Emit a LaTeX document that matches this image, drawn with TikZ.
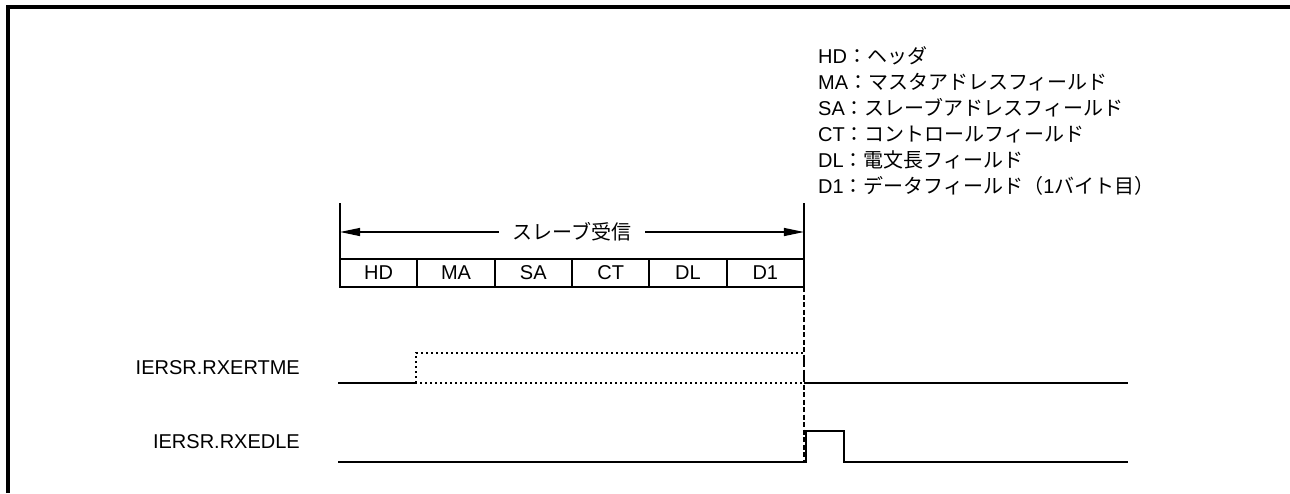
\documentclass[tikz,border=0pt]{standalone}
\usepackage{fontspec}
\setmainfont{Liberation Sans}
\newfontfamily\jp{Noto Sans CJK JP}
\usetikzlibrary{arrows.meta,positioning}

\tikzset{
    field/.style={draw, line width=2pt, minimum width=77.33pt, minimum height=28pt, inner sep=0pt, outer sep=0pt},
    signal/.style={line width=1.6pt},
}

\begin{document}
\begin{tikzpicture}[x=1pt,y=-1pt,font=\fontsize{20}{26}\selectfont,>={Triangle[length=20pt,width=8pt]}]
    \useasboundingbox (0,0) rectangle (1290,493);
    \draw[line width=4pt] (8,493) -- (8,7) -- (1290,7);

    \foreach \txt [count=\i] in {HD{\jp ：ヘッダ}, MA{\jp ：マスタアドレスフィールド}, SA{\jp ：スレーブアドレスフィールド}, CT{\jp ：コントロールフィールド}, DL{\jp ：電文長フィールド}, D1{\jp ：データフィールド（}1{\jp バイト目）}} {
        \node[anchor=base west, inner sep=0pt] (leg\i) at (818,37+26*\i) {\txt};
    }

    \node[field, anchor=west] (hd) at (340,273) {HD};
    \node[field, right=0pt of hd] (ma) {MA};
    \node[field, right=0pt of ma] (sa) {SA};
    \node[field, right=0pt of sa] (ct) {CT};
    \node[field, right=0pt of ct] (dl) {DL};
    \node[field, right=0pt of dl] (d1) {D1};

    \coordinate[above=56pt of hd.north west] (bl);
    \coordinate[above=56pt of d1.north east] (br);
    \coordinate[above=27pt of hd.north west] (al);
    \coordinate[above=27pt of d1.north east] (ar);
    \draw[line width=1.2pt] (bl) -- (hd.north west);
    \draw[line width=1.2pt] (br) -- (d1.north east);
    \draw[line width=1.2pt, <->] (al) -- (ar) node[midway, fill=white, inner xsep=14pt] (rx) {\jp スレーブ受信};

    \node[anchor=east, inner sep=0pt] (ertme) at (300,368) {IERSR.RXERTME};
    \node[anchor=east, inner sep=0pt] (edle) at (300,442) {IERSR.RXEDLE};

    \coordinate (ea) at (338,383);
    \coordinate (eb) at (416,383);
    \coordinate (ec) at (804,353);
    \coordinate (ed) at (1128,383);
    \coordinate (la) at (338,462);
    \coordinate (lb) at (1128,462);

    \draw[signal] (ea) -- (eb);
    \draw[signal, dash pattern=on 1.6pt off 3.4pt] (eb) rectangle (ec);
    \draw[signal] (ec |- ed) -- (ed);

    \draw[line width=1.8pt, dash pattern=on 5pt off 2.5pt] (d1.south east) -- (d1.south east |- la);

    \draw[signal] (la) -- (806,462) -- (806,431) -- (844,431) -- (844,462) -- (lb);
\end{tikzpicture}
\end{document}
